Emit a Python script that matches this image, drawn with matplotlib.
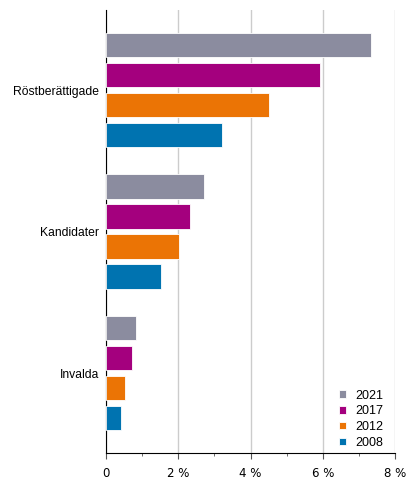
import matplotlib
matplotlib.use("Agg")
import matplotlib.pyplot as plt
import numpy as np

categories = ["Röstberättigade", "Kandidater", "Invalda"]
years = ["2021", "2017", "2012", "2008"]
values = {
    "2021": [7.33, 2.72, 0.82],
    "2017": [5.92, 2.33, 0.72],
    "2012": [4.52, 2.02, 0.52],
    "2008": [3.22, 1.52, 0.42],
}
colors = {"2021": "#8b8c9f", "2017": "#a4007e", "2012": "#eb7405", "2008": "#0073b0"}
xticks = [0, 2, 4, 6, 8]
xticklabels = ["0", "2 %", "4 %", "6 %", "8 %"]

plt.rcParams['font.family'] = ['Liberation Sans', 'DejaVu Sans']
fig = plt.figure(figsize=(4.16, 4.91), dpi=100)
ax = fig.add_axes([106/416, 38/491, 289/416, 443/491])

pitch = 0.212
h = 0.172
offsets = (np.arange(4) - 1.5) * pitch
y = np.arange(len(categories))
for i, yr in enumerate(years):
    ax.barh(y + offsets[i], values[yr], height=h, color=colors[yr],
            edgecolor="white", linewidth=0.6, label=yr, zorder=3)

ax.set_ylim(2.563, -0.565)
ax.set_xlim(0, 8)
ax.set_yticks(y)
ax.set_yticklabels(categories, fontsize=8.7)
ax.tick_params(axis='y', length=0, pad=5)
ax.set_xticks(xticks)
ax.set_xticklabels(xticklabels, fontsize=8.5, family='DejaVu Sans')
ax.set_xticks([1, 3, 5, 7], minor=True)
ax.tick_params(axis='x', which='major', length=4, color='#555555', pad=6)
ax.tick_params(axis='x', which='minor', length=2.2, color='#555555')
ax.grid(axis='x', color='#cccccc', linewidth=1, zorder=0)
for s in ['top', 'right']:
    ax.spines[s].set_visible(False)
ax.spines['left'].set_color('black')
ax.spines['bottom'].set_color('black')

leg = ax.legend(loc='lower right', bbox_to_anchor=(0.997, -0.016), frameon=False,
                fontsize=9, handlelength=0.55, handleheight=0.55, handletextpad=0.7,
                labelspacing=0.3)

fig.savefig("out.png", dpi=100)
